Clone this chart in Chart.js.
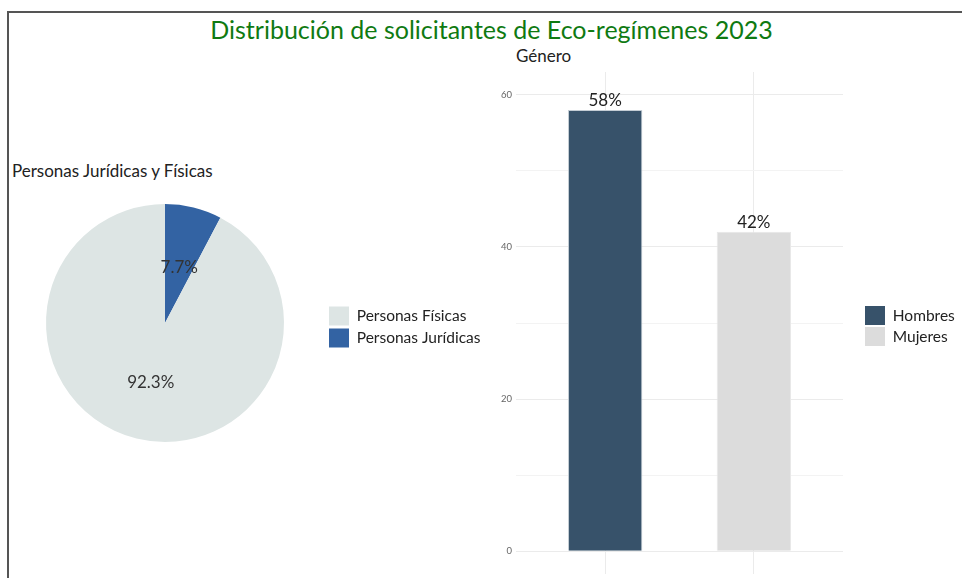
<!DOCTYPE html>
<html><head><meta charset="utf-8">
<script src="https://cdn.jsdelivr.net/npm/chart.js@4.4.0/dist/chart.umd.min.js"></script>
<style>
html,body{margin:0;padding:0;background:#fff;width:962px;height:578px;overflow:hidden;font-family:Lato,sans-serif;}
#frame{position:absolute;left:7px;top:11px;width:970px;height:590px;border-top:2px solid #555;border-left:2px solid #555;box-sizing:border-box;}
#title{position:absolute;left:0;width:983px;top:13px;text-align:center;color:#0f7a12;font-size:25px;line-height:32px;white-space:nowrap;}
.sub{position:absolute;font-size:17px;color:#222;line-height:20px;white-space:nowrap;}
#pieWrap{position:absolute;left:0;top:180px;width:500px;height:290px;}
#barWrap{position:absolute;left:480px;top:40px;width:482px;height:538px;}
</style>
</head><body>
<div id="frame"></div>
<div id="title">Distribución de solicitantes de Eco-regímenes 2023</div>
<div class="sub" style="left:12px;top:161px;">Personas Jurídicas y Físicas</div>
<div class="sub" style="left:516px;top:46px;">Género</div>
<div id="pieWrap"><canvas id="pie" width="500" height="290"></canvas></div>
<div id="barWrap"><canvas id="bar" width="482" height="538"></canvas></div>
<script>
// ---- Data ----
const pieCategories = ['Personas Jurídicas', 'Personas Físicas'];
const pieValues = [7.7, 92.3];
const pieLabels = ['7.7%', '92.3%'];
const pieColors = ['#3363a3', '#dde5e4'];

const barCategories = ['Hombres', 'Mujeres'];
const barValues = [58, 42];
const barLabels = ['58%', '42%'];
const barColors = ['#37526a', '#dcdcdc'];
const barBorders = ['#c3ccd4', '#e8e8e8'];
const yTickLabels = [0, 20, 40, 60];

Chart.defaults.font.family = 'Lato, sans-serif';
Chart.defaults.animation = false;

const pieLabelPlugin = {
  id: 'pieLabels',
  afterDatasetsDraw(chart) {
    const ctx = chart.ctx;
    const meta = chart.getDatasetMeta(0);
    ctx.save();
    ctx.font = '17px Lato, sans-serif';
    ctx.fillStyle = '#333';
    ctx.textAlign = 'center';
    ctx.textBaseline = 'middle';
    meta.data.forEach((arc, i) => {
      const p = arc.tooltipPosition();
      ctx.fillText(pieLabels[i], p.x, p.y + 2);
    });
    ctx.restore();
  }
};

new Chart(document.getElementById('pie'), {
  type: 'pie',
  data: {
    labels: pieCategories,
    datasets: [{ data: pieValues, backgroundColor: pieColors, borderWidth: 0 }]
  },
  options: {
    responsive: false,
    radius: 119,
    layout: { padding: { left: 4, top: 10, bottom: 14, right: 10 } },
    plugins: {
      legend: {
        position: 'right',
        reverse: true,
        maxWidth: 164,
        title: { display: true, text: '', padding: 0, font: { size: 8, lineHeight: 1 } },
        labels: { boxWidth: 20, boxHeight: 19, padding: 3, color: '#222', font: { size: 15.5 } }
      },
      tooltip: { enabled: false },
      title: { display: false }
    }
  },
  plugins: [pieLabelPlugin]
});

const barLabelPlugin = {
  id: 'barLabels',
  afterDatasetsDraw(chart) {
    const ctx = chart.ctx;
    const meta = chart.getDatasetMeta(0);
    ctx.save();
    ctx.font = '17px Lato, sans-serif';
    ctx.fillStyle = '#222';
    ctx.textAlign = 'center';
    ctx.textBaseline = 'bottom';
    meta.data.forEach((bar, i) => {
      ctx.fillText(barLabels[i], bar.x, bar.y - 1);
    });
    ctx.restore();
  }
};

new Chart(document.getElementById('bar'), {
  type: 'bar',
  data: {
    labels: barCategories,
    datasets: [{
      data: barCategories.map((c, i) => ({ x: i + 1, y: barValues[i] })),
      backgroundColor: barColors,
      borderColor: barBorders,
      borderWidth: 1,
      categoryPercentage: 1,
      barPercentage: 0.5
    }]
  },
  options: {
    responsive: false,
    layout: { padding: { left: 16, top: 32, bottom: 4, right: 2 } },
    scales: {
      x: {
        type: 'linear', min: 0.4, max: 2.6, offset: false,
        afterBuildTicks: (s) => { s.ticks = barCategories.map((c, i) => ({ value: i + 1 })); },
        afterFit: (s) => { s.height = 0; s.paddingLeft = 0; s.paddingRight = 0; },
        ticks: { display: false },
        grid: { color: '#ebebeb', drawTicks: false, offset: false },
        border: { display: false }
      },
      y: {
        min: -3, max: 63,
        ticks: {
          stepSize: 10, includeBounds: false, padding: 4,
          color: '#666', font: { size: 9.5 },
          callback: (v) => yTickLabels.includes(v) ? String(v) : ''
        },
        grid: { color: (c) => (c.tick && c.tick.value % 20 === 0) ? '#ebebeb' : '#f3f3f3', drawTicks: false },
        border: { display: false },
        afterFit: (s) => { s.width = 20; s.paddingTop = 0; s.paddingBottom = 0; }
      },
      yRight: {
        position: 'right', display: true,
        ticks: { display: false }, grid: { display: false }, border: { display: false },
        afterFit: (s) => { s.width = 20; s.paddingTop = 0; s.paddingBottom = 0; }
      }
    },
    plugins: {
      legend: {
        position: 'right',
        maxWidth: 97,
        title: { display: true, text: '', padding: 0, font: { size: 6, lineHeight: 1 } },
        labels: {
          boxWidth: 20, boxHeight: 19, padding: 2, color: '#222', font: { size: 15.5 },
          generateLabels: () => barCategories.map((c, i) => ({
            text: c, fillStyle: barColors[i], strokeStyle: barColors[i], fontColor: '#222',
            lineWidth: 0, hidden: false, index: i
          }))
        }
      },
      tooltip: { enabled: false }
    }
  },
  plugins: [barLabelPlugin]
});
</script>
</body></html>
